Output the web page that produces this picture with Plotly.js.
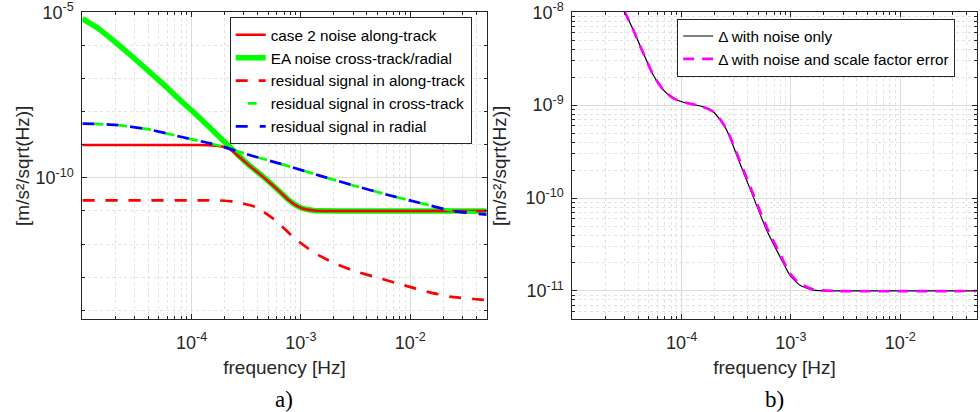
<!DOCTYPE html>
<html>
<head>
<meta charset="utf-8">
<script src="https://cdn.plot.ly/plotly-3.0.1.min.js"></script>
<style>
  html, body { margin: 0; padding: 0; background: #ffffff; }
  #chart { width: 980px; height: 412px; }
</style>
</head>
<body>
<div id="chart"></div>
<script>
// ---------- Panel a) data ----------
const freqCase2 = [1e-5, 3.16e-5, 1e-4, 1.41e-4, 1.66e-4, 1.91e-4, 2.19e-4, 2.75e-4, 3.39e-4, 4.21e-4, 5.25e-4, 6.46e-4, 7.76e-4, 8.91e-4, 1.05e-3, 1.26e-3, 1.48e-3, 3.16e-3, 5e-2];
const case2Noise = [9.8e-10, 9.8e-10, 9.8e-10, 9.7e-10, 9.4e-10, 8.9e-10, 7.8e-10, 4.2e-10, 2.3e-10, 1.3e-10, 6.9e-11, 3.7e-11, 2.1e-11, 1.5e-11, 1.17e-11, 1.05e-11, 1.0e-11, 1.0e-11, 1.0e-11];

const freqEA = [1e-5, 1.41e-5, 2.0e-5, 2.84e-5, 4.05e-5, 5.75e-5, 8.15e-5, 1.16e-4, 1.64e-4, 2.18e-4, 2.51e-4, 2.75e-4, 3.39e-4, 4.21e-4, 5.25e-4, 6.46e-4, 7.76e-4, 8.91e-4, 1.05e-3, 1.26e-3, 1.48e-3, 3.16e-3, 5e-2];
const eaNoise = [6.4e-6, 3.2e-6, 1.26e-6, 4.7e-7, 1.66e-7, 5.9e-8, 2.0e-8, 6.9e-9, 2.3e-9, 9.3e-10, 6.0e-10, 4.4e-10, 2.35e-10, 1.32e-10, 7.0e-11, 3.75e-11, 2.12e-11, 1.52e-11, 1.18e-11, 1.06e-11, 1.01e-11, 1.0e-11, 1.0e-11];

const freqResAlong = [1e-5, 1.26e-4, 1.78e-4, 2.4e-4, 3.85e-4, 5.86e-4, 8.61e-4, 1.31e-3, 2.04e-3, 3.27e-3, 5.26e-3, 8.71e-3, 1.41e-2, 2.3e-2, 3.8e-2, 5e-2];
const resAlong = [2.1e-11, 2.1e-11, 2.08e-11, 1.95e-11, 1.32e-11, 5.2e-12, 1.58e-12, 5.6e-13, 2.6e-13, 1.45e-13, 9.3e-14, 5.75e-14, 3.7e-14, 2.6e-14, 2.2e-14, 2.05e-14];

const freqResCR = [1e-5, 2.0e-5, 3.98e-5, 7.94e-5, 1.66e-4, 3.55e-4, 7.41e-4, 1.48e-3, 3.02e-3, 6.03e-3, 1.23e-2, 2.45e-2, 5e-2];
const resCross = [4.37e-9, 3.98e-9, 2.95e-9, 1.74e-9, 1.0e-9, 4.68e-10, 2.34e-10, 1.17e-10, 5.9e-11, 3.16e-11, 1.74e-11, 1.02e-11, 8.7e-12];
const resRadial = [4.37e-9, 3.98e-9, 2.95e-9, 1.74e-9, 1.0e-9, 4.68e-10, 2.34e-10, 1.17e-10, 5.9e-11, 3.16e-11, 1.74e-11, 1.0e-11, 7.8e-12];

// ---------- Panel b) data ----------
const freqDelta = [2.51e-5, 3.03e-5, 3.61e-5, 4.46e-5, 5.5e-5, 6.79e-5, 8.38e-5, 1.0e-4, 1.28e-4, 1.57e-4, 1.95e-4, 2.24e-4, 2.58e-4, 2.95e-4, 3.41e-4, 4.52e-4, 5.98e-4, 7.94e-4, 9.77e-4, 1.2e-3, 1.6e-3, 2.43e-3, 5e-2];
const deltaNoise = [1.58e-8, 1.0e-8, 6.46e-9, 3.63e-9, 2.11e-9, 1.46e-9, 1.19e-9, 1.09e-9, 1.02e-9, 9.6e-10, 8.5e-10, 7.0e-10, 5.4e-10, 3.7e-10, 2.37e-10, 1.03e-10, 4.54e-11, 2.34e-11, 1.48e-11, 1.16e-11, 1.02e-11, 1.0e-11, 1.0e-11];
const deltaNoiseSF = [1.58e-8, 1.0e-8, 6.46e-9, 3.63e-9, 2.11e-9, 1.46e-9, 1.19e-9, 1.09e-9, 1.02e-9, 9.6e-10, 8.5e-10, 7.1e-10, 5.5e-10, 3.85e-10, 2.5e-10, 1.1e-10, 4.9e-11, 2.5e-11, 1.55e-11, 1.2e-11, 1.04e-11, 1.0e-11, 1.0e-11];

// ---------- labels ----------
const xTickVals = [1e-4, 1e-3, 1e-2];
const xTickText = ['10<sup>-4</sup>', '10<sup>-3</sup>', '10<sup>-2</sup>'];
const yTickValsA = [1e-10, 1e-5];
const yTickTextA = ['10<sup>-10</sup>', '10<sup>-5</sup>'];
const yTickValsB = [1e-11, 1e-10, 1e-9, 1e-8];
const yTickTextB = ['10<sup>-11</sup>', '10<sup>-10</sup>', '10<sup>-9</sup>', '10<sup>-8</sup>'];
const legendNamesA = ['case 2 noise along-track', 'EA noise cross-track/radial', 'residual signal in along-track', 'residual signal in cross-track', 'residual signal in radial'];
const legendNamesB = ['Δ with noise only', 'Δ with noise and scale factor error'];
const xTitle = 'frequency [Hz]';
const yTitle = '[m/s²/sqrt(Hz)]';

// minor tick positions (decade subdivisions)
function subDecades(lo, hi) {
  const out = [];
  for (let e = lo; e <= hi; e++) {
    for (let m = 2; m <= 9; m++) out.push(m * Math.pow(10, e));
  }
  return out;
}
const xMinor = subDecades(-5, -2);
const yMinorA = [1e-14, 1e-13, 1e-12, 1e-11, 1e-9, 1e-8, 1e-7, 1e-6];
const yMinorB = subDecades(-12, -9);

const FONT = 'Liberation Sans, Arial, Helvetica, sans-serif';
const AX = '#262626';
const SM = 0.5;

const traces = [
  { x: freqEA, y: eaNoise, xaxis: 'x', yaxis: 'y', mode: 'lines', name: legendNamesA[1], legend: 'legend', legendrank: 2,
    line: { color: '#00ff00', width: 5.5, shape: 'spline', smoothing: SM } },
  { x: freqCase2, y: case2Noise, xaxis: 'x', yaxis: 'y', mode: 'lines', name: legendNamesA[0], legend: 'legend', legendrank: 1,
    line: { color: '#ff0000', width: 2.5, shape: 'spline', smoothing: SM } },
  { x: freqResAlong, y: resAlong, xaxis: 'x', yaxis: 'y', mode: 'lines', name: legendNamesA[2], legend: 'legend', legendrank: 3,
    line: { color: '#ff0000', width: 2.7, dash: '12px,11px', shape: 'spline', smoothing: SM } },
  { x: freqResCR, y: resCross, xaxis: 'x', yaxis: 'y', mode: 'lines', name: legendNamesA[3], legend: 'legend', legendrank: 4,
    line: { color: '#00ff00', width: 2.7, dash: '0px,12px,9px,3px', shape: 'spline', smoothing: SM } },
  { x: freqResCR, y: resRadial, xaxis: 'x', yaxis: 'y', mode: 'lines', name: legendNamesA[4], legend: 'legend', legendrank: 5,
    line: { color: '#0000ff', width: 2.7, dash: '12px,12px', shape: 'spline', smoothing: SM } },
  { x: freqDelta, y: deltaNoise, xaxis: 'x2', yaxis: 'y2', mode: 'lines', name: legendNamesB[0], legend: 'legend2',
    line: { color: '#000000', width: 1.2, shape: 'spline', smoothing: SM } },
  { x: freqDelta, y: deltaNoiseSF, xaxis: 'x2', yaxis: 'y2', mode: 'lines', name: legendNamesB[1], legend: 'legend2',
    line: { color: '#ff00ff', width: 2.7, dash: '11px,8px', shape: 'spline', smoothing: SM } }
];

function xAxis(domain, anchor) {
  return {
    type: 'log', domain: domain, anchor: anchor, range: [-5, Math.log10(0.05)],
    tickmode: 'array', tickvals: xTickVals, ticktext: xTickText,
    ticks: 'inside', ticklen: 5, tickcolor: AX, tickwidth: 1,
    ticklabelstandoff: 7,
    showline: true, linecolor: AX, linewidth: 1, mirror: 'allticks',
    showgrid: true, gridcolor: '#dcdcdc', gridwidth: 1,
    zeroline: false,
    tickfont: { family: FONT, size: 18, color: AX },
    minor: { tickmode: 'array', tickvals: xMinor, ticks: 'inside', ticklen: 3, tickcolor: AX,
             showgrid: true, gridcolor: '#e2e2e2', griddash: 'dot', gridwidth: 1 },
    title: { text: xTitle, font: { family: FONT, size: 19, color: AX }, standoff: 8 }
  };
}
function yAxis(domain, anchor, range, tv, tt, minorVals, standoff) {
  return {
    type: 'log', domain: domain, anchor: anchor, range: range,
    tickmode: 'array', tickvals: tv, ticktext: tt,
    ticks: 'inside', ticklen: 5, tickcolor: AX, tickwidth: 1,
    ticklabelstandoff: 4,
    showline: true, linecolor: AX, linewidth: 1, mirror: 'allticks',
    showgrid: true, gridcolor: '#dcdcdc', gridwidth: 1,
    zeroline: false,
    tickfont: { family: FONT, size: 18, color: AX },
    minor: { tickmode: 'array', tickvals: minorVals, ticks: 'inside', ticklen: 3, tickcolor: AX,
             showgrid: true, gridcolor: '#e2e2e2', griddash: 'dot', gridwidth: 1 },
    title: { text: yTitle, font: { family: FONT, size: 19, color: AX }, standoff: standoff }
  };
}

const yDom = [0.225, 0.9702];
const layout = {
  width: 980, height: 412,
  margin: { l: 0, r: 0, t: 0, b: 0 },
  paper_bgcolor: '#ffffff', plot_bgcolor: '#ffffff',
  font: { family: FONT, color: '#000000' },
  xaxis: xAxis([0.0840, 0.4966], 'y'),
  yaxis: yAxis(yDom, 'x', [-14.27, -5.0], yTickValsA, yTickTextA, yMinorA, 0),
  xaxis2: xAxis([0.5840, 0.9966], 'y2'),
  yaxis2: yAxis(yDom, 'x2', [-11.305, -8], yTickValsB, yTickTextB, yMinorB, 13),
  legend: {
    x: 0.2344, y: 0.958, xanchor: 'left', yanchor: 'top',
    bgcolor: '#ffffff', bordercolor: AX, borderwidth: 1,
    font: { family: FONT, size: 15.3, color: '#000000' }, tracegroupgap: 0
  },
  legend2: {
    x: 0.691, y: 0.955, xanchor: 'left', yanchor: 'top',
    bgcolor: '#ffffff', bordercolor: AX, borderwidth: 1,
    font: { family: FONT, size: 15.3, color: '#000000' }, tracegroupgap: 0
  },
  showlegend: true,
  annotations: [
    { text: 'a)', xref: 'paper', yref: 'paper', x: 0.2903, y: 0.03, xanchor: 'center', yanchor: 'middle',
      showarrow: false, font: { family: 'Liberation Serif, Times New Roman, serif', size: 23, color: '#000' } },
    { text: 'b)', xref: 'paper', yref: 'paper', x: 0.7903, y: 0.03, xanchor: 'center', yanchor: 'middle',
      showarrow: false, font: { family: 'Liberation Serif, Times New Roman, serif', size: 23, color: '#000' } }
  ]
};

Plotly.newPlot('chart', traces, layout, { displayModeBar: false, staticPlot: true });
</script>
</body>
</html>
